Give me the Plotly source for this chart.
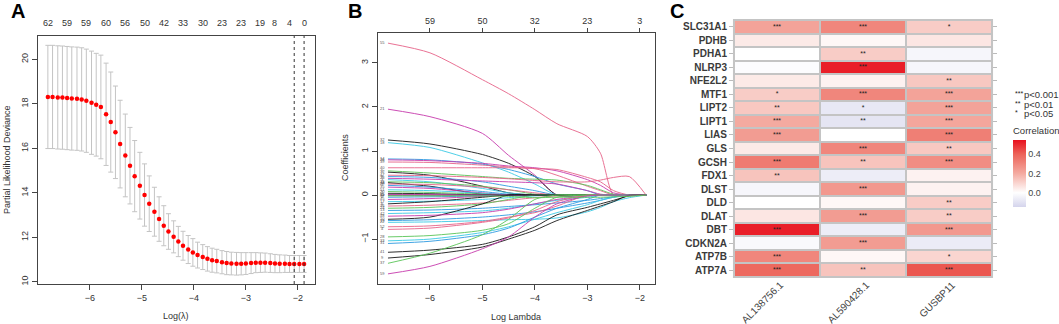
import plotly.graph_objects as go

FONT = "Liberation Sans, Arial, sans-serif"
W, H = 1059, 324

# ---------------- Panel A data (cross-validation curve) ----------------
LOG_LAMBDA = [-6.81, -6.72, -6.62, -6.53, -6.44, -6.35, -6.25, -6.16, -6.07, -5.97,
              -5.88, -5.79, -5.69, -5.60, -5.51, -5.42, -5.32, -5.23, -5.14, -5.04,
              -4.95, -4.86, -4.76, -4.67, -4.58, -4.49, -4.39, -4.30, -4.21, -4.11,
              -4.02, -3.93, -3.83, -3.74, -3.65, -3.56, -3.46, -3.37, -3.28, -3.18,
              -3.09, -3.00, -2.90, -2.81, -2.72, -2.63, -2.53, -2.44, -2.35, -2.25,
              -2.16, -2.07, -1.97, -1.88]
CV_MEAN = [18.31, 18.31, 18.29, 18.28, 18.26, 18.24, 18.23, 18.20, 18.14, 18.05,
           17.96, 17.86, 17.53, 17.18, 16.72, 16.19, 15.68, 15.22, 14.75, 14.32,
           13.90, 13.51, 13.15, 12.82, 12.52, 12.26, 12.02, 11.81, 11.62, 11.45,
           11.32, 11.20, 11.11, 11.03, 10.97, 10.93, 10.88, 10.84, 10.82, 10.81,
           10.81, 10.82, 10.84, 10.86, 10.86, 10.86, 10.84, 10.82, 10.81, 10.81,
           10.80, 10.80, 10.80, 10.80]
CV_SE = [2.32, 2.32, 2.32, 2.32, 2.32, 2.32, 2.32, 2.32, 2.32, 2.32,
         2.31, 2.33, 2.30, 2.25, 2.08, 1.97, 1.86, 1.72, 1.60, 1.50,
         1.40, 1.25, 1.10, 1.00, 0.90, 0.80, 0.72, 0.68, 0.65, 0.63,
         0.62, 0.58, 0.56, 0.55, 0.54, 0.53, 0.52, 0.52, 0.51, 0.51,
         0.50, 0.49, 0.47, 0.45, 0.44, 0.43, 0.42, 0.41, 0.40, 0.39,
         0.38, 0.38, 0.38, 0.38]
TOP_A_POS = [-6.81, -6.44, -6.07, -5.69, -5.32, -4.95, -4.58, -4.21, -3.83, -3.46,
             -3.09, -2.72, -2.44, -2.16, -1.88]
TOP_A_LABELS = ["62", "59", "59", "60", "56", "50", "42", "33", "30", "23", "23", "19", "8", "4", "0"]
LAMBDA_MIN = -2.07
LAMBDA_1SE = -1.88

# ---------------- Panel B data (coefficient paths) ----------------
PATH_X = [-6.8, -6.0, -5.0, -4.5, -4.0, -3.58, -3.0, -2.75, -2.5, -2.2, -1.88]
PATH_LABELS = ["55", "21", "32", "18", "14", "26", "39", "40", "5", "12", "47", "8", "23", "3",
               "16", "44", "29", "7", "35", "51", "20", "1", "11", "30", "2", "45", "17", "6",
               "36", "24", "13", "42", "10", "48", "22", "19", "52", "4", "28", "33", "31",
               "41", "9", "37", "59", "57"]
PATH_COLOR_IDX = [1, 5, 0, 4, 3, 5, 1, 1, 2, 0, 1, 3, 5, 4,
                  2, 0, 1, 3, 5, 4, 2, 0, 0, 5, 3, 5, 4, 0,
                  1, 2, 3, 4, 0, 5, 4, 3, 1, 1, 2, 4, 3,
                  0, 0, 2, 5, 2]
PATH_VALUES = [
    [3.45, 3.23, 2.62, 2.30, 1.94, 1.62, 1.33, 0.95, 0.00, 0.00, 0.00],
    [1.95, 1.78, 1.40, 0.90, 0.45, 0.00, 0.00, 0.00, 0.00, 0.00, 0.00],
    [1.25, 1.16, 0.92, 0.72, 0.42, 0.00, 0.00, 0.00, 0.00, 0.00, 0.00],
    [1.19, 1.08, 0.73, 0.52, 0.25, 0.00, 0.00, 0.00, 0.00, 0.00, 0.00],
    [0.82, 0.80, 0.70, 0.58, 0.42, 0.25, 0.10, 0.00, 0.00, 0.00, 0.00],
    [0.80, 0.78, 0.72, 0.66, 0.62, 0.55, 0.35, 0.22, 0.05, 0.00, 0.00],
    [0.75, 0.74, 0.68, 0.64, 0.60, 0.58, 0.40, 0.30, 0.10, 0.00, 0.00],
    [0.62, 0.62, 0.62, 0.62, 0.60, 0.45, 0.20, 0.10, 0.00, 0.00, 0.00],
    [0.55, 0.50, 0.42, 0.38, 0.36, 0.34, 0.22, 0.12, 0.02, 0.00, 0.00],
    [0.52, 0.45, 0.20, 0.05, 0.00, 0.00, 0.00, 0.00, 0.00, 0.00, 0.00],
    [0.45, 0.44, 0.40, 0.37, 0.33, 0.30, 0.30, 0.34, 0.40, 0.42, 0.00],
    [0.42, 0.40, 0.30, 0.20, 0.10, 0.00, 0.00, 0.00, 0.00, 0.00, 0.00],
    [0.38, 0.36, 0.32, 0.30, 0.28, 0.25, 0.10, 0.02, 0.00, 0.00, 0.00],
    [0.35, 0.30, 0.15, 0.05, 0.00, 0.00, 0.00, 0.00, 0.00, 0.00, 0.00],
    [0.30, 0.28, 0.20, 0.12, 0.02, 0.00, 0.00, 0.00, 0.00, 0.00, 0.00],
    [0.28, 0.20, 0.02, 0.00, 0.00, 0.00, 0.00, 0.00, 0.00, 0.00, 0.00],
    [0.25, 0.24, 0.18, 0.12, 0.05, 0.00, 0.00, 0.00, 0.00, 0.00, 0.00],
    [0.22, 0.18, 0.08, 0.02, 0.00, 0.00, 0.00, 0.00, 0.00, 0.00, 0.00],
    [0.18, 0.15, 0.05, 0.00, 0.00, 0.00, 0.00, 0.00, 0.00, 0.00, 0.00],
    [0.12, 0.10, 0.04, 0.00, 0.00, 0.00, 0.00, 0.00, 0.00, 0.00, 0.00],
    [0.08, 0.06, 0.02, 0.00, 0.00, 0.00, 0.00, 0.00, 0.00, 0.00, 0.00],
    [0.04, 0.03, 0.00, 0.00, 0.00, 0.00, 0.00, 0.00, 0.00, 0.00, 0.00],
    [0.00, 0.00, 0.00, 0.00, 0.00, 0.00, 0.00, 0.00, 0.00, 0.00, 0.00],
    [0.01, 0.01, 0.00, 0.00, 0.00, 0.00, 0.00, 0.00, 0.00, 0.00, 0.00],
    [-0.05, -0.04, -0.02, 0.00, 0.00, 0.00, 0.00, 0.00, 0.00, 0.00, 0.00],
    [-0.10, -0.08, -0.03, 0.00, 0.00, 0.00, 0.00, 0.00, 0.00, 0.00, 0.00],
    [-0.15, -0.14, -0.10, -0.06, -0.02, 0.00, 0.00, 0.00, 0.00, 0.00, 0.00],
    [-0.20, -0.15, -0.05, 0.00, 0.00, 0.00, 0.00, 0.00, 0.00, 0.00, 0.00],
    [-0.25, -0.23, -0.18, -0.12, -0.06, -0.02, 0.00, 0.00, 0.00, 0.00, 0.00],
    [-0.30, -0.28, -0.20, -0.10, 0.00, 0.00, 0.00, 0.00, 0.00, 0.00, 0.00],
    [-0.35, -0.34, -0.30, -0.26, -0.22, -0.18, -0.12, -0.08, -0.04, 0.00, 0.00],
    [-0.42, -0.40, -0.36, -0.30, -0.20, -0.12, -0.05, 0.00, 0.00, 0.00, 0.00],
    [-0.55, -0.50, -0.20, 0.00, 0.00, 0.00, 0.00, 0.00, 0.00, 0.00, 0.00],
    [-0.48, -0.46, -0.40, -0.32, -0.20, -0.10, -0.02, 0.00, 0.00, 0.00, 0.00],
    [-0.62, -0.61, -0.58, -0.56, -0.55, -0.52, -0.38, -0.28, -0.15, -0.06, 0.00],
    [-0.58, -0.56, -0.50, -0.45, -0.38, -0.30, -0.18, -0.12, -0.05, 0.00, 0.00],
    [-0.72, -0.70, -0.60, -0.50, -0.40, -0.25, 0.00, 0.00, 0.00, 0.00, 0.00],
    [-0.78, -0.75, -0.62, -0.52, -0.35, -0.15, 0.00, 0.00, 0.00, 0.00, 0.00],
    [-0.95, -0.92, -0.80, -0.65, -0.30, -0.05, 0.00, 0.00, 0.00, 0.00, 0.00],
    [-1.04, -1.00, -0.85, -0.72, -0.55, -0.40, -0.22, -0.12, -0.05, 0.00, 0.00],
    [-1.10, -1.05, -0.90, -0.75, -0.50, -0.30, -0.10, 0.00, 0.00, 0.00, 0.00],
    [-1.30, -1.25, -1.12, -0.95, -0.72, -0.45, -0.28, -0.20, -0.12, -0.02, 0.00],
    [-1.43, -1.35, -1.18, -1.00, -0.80, -0.58, -0.35, -0.25, -0.15, 0.00, 0.00],
    [-1.55, -1.32, -0.90, -0.55, -0.10, 0.00, 0.00, 0.00, 0.00, 0.00, 0.00],
    [-1.79, -1.62, -1.22, -0.95, -0.50, -0.20, -0.02, 0.00, 0.00, 0.00, 0.00],
    [-0.02, -0.02, -0.02, -0.03, -0.06, -0.05, -0.05, -0.05, -0.04, -0.03, 0.00],
]
TOP_B_POS = [-6, -5, -4, -3, -2]
TOP_B_LABELS = ["59", "50", "32", "23", "3"]

# ---------------- Panel C data (correlation heatmap) ----------------
ROWS = ["SLC31A1", "PDHB", "PDHA1", "NLRP3", "NFE2L2", "MTF1", "LIPT2", "LIPT1", "LIAS", "GLS",
        "GCSH", "FDX1", "DLST", "DLD", "DLAT", "DBT", "CDKN2A", "ATP7B", "ATP7A"]
COLS = ["AL138756.1", "AL590428.1", "GUSBP11"]
CORR = [
    [0.22, 0.30, 0.12],
    [0.05, 0.02, 0.06],
    [0.00, 0.12, -0.03],
    [-0.01, 0.52, -0.03],
    [0.05, 0.03, 0.13],
    [0.12, 0.30, 0.22],
    [0.13, -0.08, 0.22],
    [0.20, -0.09, 0.21],
    [0.24, 0.00, 0.32],
    [0.05, 0.30, 0.13],
    [0.33, 0.14, 0.28],
    [0.14, -0.06, 0.03],
    [-0.03, 0.25, 0.03],
    [0.00, 0.02, 0.12],
    [0.06, 0.24, 0.12],
    [0.52, -0.06, 0.25],
    [-0.02, 0.24, -0.07],
    [0.30, 0.02, 0.10],
    [0.38, 0.14, 0.42],
]
STARS = [
    ["***", "***", "*"],
    ["", "", ""],
    ["", "**", ""],
    ["", "***", ""],
    ["", "", "**"],
    ["*", "***", "***"],
    ["**", "*", "***"],
    ["***", "**", "***"],
    ["***", "", "***"],
    ["", "***", "**"],
    ["***", "**", "***"],
    ["**", "", ""],
    ["", "***", ""],
    ["", "", "**"],
    ["", "***", "**"],
    ["***", "", "***"],
    ["", "***", ""],
    ["***", "", "*"],
    ["***", "**", "***"],
]
CORR_MIN, CORR_MAX = -0.147, 0.544
LEGEND_STARS = ["***", "**", "*"]
LEGEND_TEXT = ["p<0.001", "p<0.01", "p<0.05"]

# ---------------- helpers ----------------
def px_x(p):
    return p / W

def px_y(p):
    return 1 - p / H

R_PALETTE = ["#1a1a1a", "#E8648A", "#5CC65A", "#2F9BE2", "#3CCBE6", "#C83CAE"]

fig = go.Figure()

# Panel A
fig.add_trace(go.Scatter(
    x=LOG_LAMBDA, y=CV_MEAN, mode="markers",
    marker=dict(color="#ff0000", size=4.5),
    error_y=dict(type="data", array=CV_SE, color="#c4c4c4", thickness=1, width=2.5),
    xaxis="x", yaxis="y", showlegend=False, hoverinfo="skip"))

# Panel B
for lab, ci, vals in zip(PATH_LABELS, PATH_COLOR_IDX, PATH_VALUES):
    fig.add_trace(go.Scatter(
        x=PATH_X, y=vals, mode="lines", opacity=0.9,
        line=dict(color=R_PALETTE[ci], width=1, shape="spline", smoothing=0.7),
        xaxis="x3", yaxis="y3", showlegend=False, hoverinfo="skip"))
fig.add_trace(go.Scatter(
    x=[-6.91] * len(PATH_LABELS), y=[v[0] for v in PATH_VALUES], mode="text",
    text=PATH_LABELS, textfont=dict(size=4, color="#555"),
    xaxis="x3", yaxis="y3", showlegend=False, hoverinfo="skip"))
fig.add_trace(go.Scatter(x=TOP_B_POS, y=[0] * len(TOP_B_POS), mode="markers",
                         marker=dict(opacity=0), xaxis="x4", yaxis="y3",
                         showlegend=False, hoverinfo="skip"))

# Panel C
zr = CORR_MAX - CORR_MIN
z0 = (0 - CORR_MIN) / zr
fig.add_trace(go.Heatmap(
    z=CORR, x=COLS, y=ROWS, text=STARS, texttemplate="%{text}",
    textfont=dict(size=7, color="#222"),
    zmin=CORR_MIN, zmax=CORR_MAX,
    colorscale=[[0, "#d4d4ec"], [z0, "#ffffff"], [(0.2 - CORR_MIN) / zr, "#f4aaa0"],
                [(0.4 - CORR_MIN) / zr, "#ec6258"], [1, "#e8101e"]],
    xgap=2, ygap=2,
    xaxis="x5", yaxis="y5", hoverinfo="skip",
    colorbar=dict(
        x=px_x(1013), xanchor="left", xpad=0, ypad=0,
        y=px_y(207), yanchor="bottom",
        len=(207 - 124) / H, lenmode="fraction", thickness=13, outlinewidth=0,
        tickvals=[0, 0.2, 0.4], ticktext=["0.0", "0.2", "0.4"], ticks="",
        ticklabelposition="outside",
        tickfont=dict(size=9, color="#444", family=FONT),
        title=dict(text="Correlation", side="top", font=dict(size=9.5, color="#333", family=FONT)),
    )))

axis_common = dict(showgrid=False, zeroline=False, showline=True, mirror=True,
                   linecolor="#444", linewidth=1, ticks="outside", ticklen=5,
                   tickcolor="#444", tickfont=dict(size=9, color="#333"),
                   automargin=False)

fig.update_layout(
    template="none",
    width=W, height=H, margin=dict(l=0, r=0, t=0, b=0, autoexpand=False),
    paper_bgcolor="white", plot_bgcolor="white", showlegend=False,
    font=dict(family=FONT, size=9, color="#333"),
    # A
    xaxis=dict(domain=[px_x(38), px_x(315)], range=[-7.0, -1.67], anchor="y",
               tickvals=[-6, -5, -4, -3, -2], **axis_common),
    yaxis=dict(domain=[px_y(284), px_y(36)], range=[9.9, 21.05], anchor="x",
               tickvals=[10, 12, 14, 16, 18, 20], tickangle=-90, **axis_common),
    # B
    xaxis3=dict(domain=[px_x(378), px_x(655)], range=[-6.99, -1.71], anchor="y3",
                tickvals=[-6, -5, -4, -3, -2], **axis_common),
    xaxis4=dict(domain=[px_x(378), px_x(655)], range=[-6.99, -1.71], anchor="y3",
                overlaying="x3", side="top", showgrid=False, zeroline=False,
                showline=False, ticks="outside", ticklen=4, tickcolor="#444",
                tickvals=TOP_B_POS, ticktext=TOP_B_LABELS,
                tickfont=dict(size=9, color="#333"), automargin=False, visible=True),
    yaxis3=dict(domain=[px_y(284), px_y(33)], range=[-2.02, 3.68], anchor="x3",
                tickvals=[-1, 0, 1, 2, 3], tickangle=-90, **axis_common),
    # C
    xaxis5=dict(domain=[px_x(734), px_x(992)], anchor="y5", showgrid=False,
                zeroline=False, showline=False, ticks="", showticklabels=False,
                automargin=False),
    yaxis5=dict(domain=[px_y(277), px_y(20)], anchor="x5", autorange="reversed",
                showgrid=False, zeroline=False, showline=False, ticks="outside",
                ticklen=4, tickcolor="#bbbbbb", mirror="ticks", automargin=False,
                tickfont=dict(size=10, color="#3a3a3a", weight="bold")),
)

for xv in (LAMBDA_MIN, LAMBDA_1SE):
    fig.add_shape(type="line", xref="x", yref="y domain", x0=xv, x1=xv, y0=0, y1=1,
                  line=dict(color="#333", width=1, dash="dot"))

fig.add_shape(type="rect", xref="x5 domain", yref="y5 domain", x0=-0.004, x1=1.004,
              y0=-0.004, y1=1.004, fillcolor="#c4c4c4", line=dict(width=0), layer="below")

ann = []
def add_text(x, y, text, size=9, angle=0, bold=False, xanchor="center", color="#333"):
    ann.append(dict(x=px_x(x), y=px_y(y), xref="paper", yref="paper",
                    text=text, showarrow=False, textangle=angle, xanchor=xanchor,
                    yanchor="middle",
                    font=dict(size=size, color=color, family=FONT,
                              weight="bold" if bold else "normal")))

add_text(18, 11, "A", size=20, bold=True, color="#000")
add_text(355, 11, "B", size=20, bold=True, color="#000")
add_text(677, 11, "C", size=20, bold=True, color="#000")
add_text(176, 316, "Log(λ)", size=9)
add_text(7, 160, "Partial Likelihood Deviance", size=9, angle=-90)
add_text(516, 317, "Log Lambda", size=9)
add_text(345, 158, "Coefficients", size=9, angle=-90)
for i, (s, t) in enumerate(zip(LEGEND_STARS, LEGEND_TEXT)):
    yy = 95 + 9 * i
    add_text(1013, yy - 1, s, size=7, xanchor="left", color="#222")
    add_text(1022, yy, t, size=9.5, xanchor="left", color="#333")

# top axis of panel A: number of non-zero coefficients at selected lambdas
for pos, lab in zip(TOP_A_POS, TOP_A_LABELS):
    ann.append(dict(x=pos, y=px_y(23), xref="x", yref="paper", text=lab,
                    showarrow=False, xanchor="center", yanchor="middle",
                    font=dict(size=9, color="#333", family=FONT)))

col_half_len = [19, 19, 16]
for name, half in zip(COLS, col_half_len):
    ann.append(dict(x=name, y=px_y(283 + half), xref="x5", yref="paper", text=name,
                    showarrow=False, textangle=-45, xanchor="center", yanchor="middle",
                    xshift=4 - half, font=dict(size=10, color="#444", family=FONT)))

fig.update_layout(annotations=ann)
fig.write_html("out.html", config={"displayModeBar": False},
               post_script="document.body.style.margin='0';document.body.style.padding='0';"
                           "document.body.style.overflow='hidden';")
